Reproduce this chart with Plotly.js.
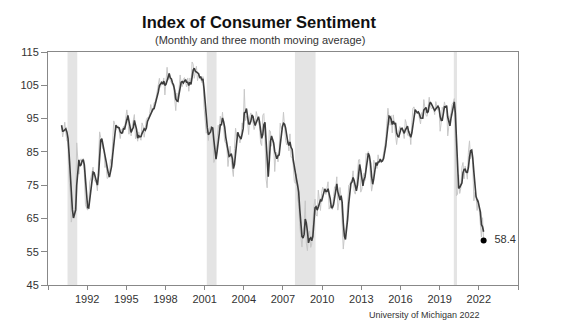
<!DOCTYPE html>
<html><head><meta charset="utf-8">
<script src="https://cdn.plot.ly/plotly-3.0.1.min.js"></script>
<style>body{margin:0;background:#fff}#c{width:573px;height:336px}</style>
</head><body><div id="c"></div>
<script>
const startYear = 1990;
const monthly = [
93.0,89.5,91.3,93.9,90.6,88.3,88.2,76.4,72.8,63.9,66.0,65.5,
66.8,70.4,87.7,81.8,78.3,82.1,82.9,82.0,83.0,78.3,69.1,68.2,
67.5,68.8,76.0,77.2,79.2,80.4,76.6,76.1,75.6,73.3,85.3,91.0,
89.3,86.6,85.9,85.6,80.3,81.5,77.0,77.3,77.9,82.7,81.2,88.2,
94.3,93.2,91.5,92.6,92.8,91.2,89.0,91.7,91.5,92.7,91.6,95.1,
97.6,95.1,90.3,92.5,89.8,92.7,94.4,96.2,88.9,90.2,88.2,91.0,
89.3,88.5,93.7,92.7,89.4,92.4,94.7,95.3,94.7,96.5,99.2,96.9,
97.4,99.7,100.0,101.4,103.2,104.5,107.1,104.4,106.0,105.6,107.2,102.1,
106.6,110.4,106.5,108.7,106.5,105.6,105.2,104.4,100.9,97.4,102.7,100.5,
103.9,108.1,105.7,104.6,106.8,107.3,106.0,104.5,107.2,103.2,107.2,105.4,
112.0,111.3,107.1,109.2,110.7,106.4,108.3,107.3,106.8,105.8,107.6,98.4,
94.7,90.6,91.5,88.4,92.0,92.6,92.4,91.5,81.8,82.7,83.9,88.8,
93.0,90.7,95.7,93.0,96.9,92.4,88.1,87.6,86.1,80.6,84.2,86.7,
82.4,79.9,77.6,86.0,92.1,89.7,90.9,89.3,87.7,89.6,93.7,92.6,
103.8,94.4,95.8,94.2,90.2,95.6,96.7,95.9,94.2,91.7,92.8,97.1,
95.5,94.1,92.6,87.7,86.9,96.0,96.5,89.1,76.9,74.2,81.6,91.5,
91.2,86.7,88.9,87.4,79.1,84.9,84.7,82.0,85.4,93.6,92.1,91.7,
96.9,91.3,88.4,87.1,88.3,85.3,90.4,83.4,83.4,80.9,76.1,75.5,
78.4,70.8,69.5,62.6,59.8,56.4,61.2,63.0,70.3,57.6,55.3,60.1,
61.2,56.3,57.3,65.1,68.7,70.8,66.0,65.7,73.5,70.6,67.4,72.5,
74.4,73.6,73.6,72.2,73.6,76.0,67.8,68.9,68.2,67.7,71.6,74.5,
74.2,77.5,67.5,69.8,74.3,71.5,63.7,55.8,59.5,60.8,63.7,69.9,
75.0,75.3,76.2,76.4,79.3,73.2,72.3,74.3,78.3,82.6,82.7,72.9,
73.8,77.6,78.6,76.4,84.5,84.1,85.1,82.1,77.5,73.2,75.1,82.5,
81.2,81.6,80.0,84.1,81.9,82.5,81.8,82.5,84.6,86.9,88.8,93.6,
98.1,95.4,93.0,95.9,90.7,96.1,93.1,91.9,87.2,90.0,91.3,92.6,
92.0,91.7,91.0,89.0,94.7,93.5,90.0,89.8,91.2,87.2,93.8,98.2,
98.5,96.3,96.9,97.0,97.1,95.0,93.4,96.8,95.1,100.7,98.5,95.9,
95.7,99.7,101.4,98.8,98.0,98.2,97.9,96.2,100.1,98.6,97.5,98.3,
91.2,93.8,98.4,97.2,100.0,98.2,98.4,89.8,93.2,95.5,96.8,99.3,
99.8,101.0,89.1,71.8,72.3,78.1,72.5,74.1,80.4,81.8,76.9,80.7,
79.0,76.8,84.9,88.3,82.9,85.5,81.2,70.3,72.8,71.7,67.4,70.6,
67.2,62.8,59.4,65.2,58.4
];
const recessions = [["1990-07-01","1991-03-31"],["2001-03-01","2001-11-30"],["2007-12-01","2009-06-30"],["2020-02-01","2020-04-30"]];
const tickYears = [1989,1992,1995,1998,2001,2004,2007,2010,2013,2016,2019,2022,2025];
const tickLabels = ["","1992","1995","1998","2001","2004","2007","2010","2013","2016","2019","2022",""];
const lastLabel = "58.4";

const dates = monthly.map((v,i)=>{
  const y = startYear + Math.floor(i/12), m = i%12+1;
  return y+"-"+String(m).padStart(2,"0")+"-15";
});
const ma = monthly.map((v,i)=>{
  const s = monthly.slice(Math.max(0,i-2), i+1);
  return s.reduce((a,b)=>a+b,0)/s.length;
});
const n = monthly.length-1;

const traces = [
 {x:dates,y:monthly,type:"scatter",mode:"lines",line:{color:"#c8c8c8",width:1},hoverinfo:"skip"},
 {x:dates,y:ma,type:"scatter",mode:"lines",line:{color:"#3c3c3c",width:1.6},hoverinfo:"skip"},
 {x:[dates[n]],y:[monthly[n]],type:"scatter",mode:"markers+text",marker:{color:"#000",size:6},
  text:["  "+lastLabel],textposition:"middle right",textfont:{family:"Liberation Sans, Arial",size:11,color:"#333"},cliponaxis:false}
];
const shapes = recessions.map(r=>({type:"rect",xref:"x",yref:"paper",x0:r[0],x1:r[1],y0:0,y1:1,fillcolor:"#e4e4e4",line:{width:0},layer:"below"}));

const layout = {
  width:573,height:336,showlegend:false,
  paper_bgcolor:"#fff",plot_bgcolor:"#fff",
  margin:{l:48,r:55,t:52,b:51},
  font:{family:"Liberation Sans, Arial",size:11,color:"#333"},
  title:{text:"<b>Index of Consumer Sentiment</b>",x:0.452,xanchor:"center",y:0.935,yanchor:"middle",font:{size:16.5,color:"#111"}},
  xaxis:{type:"date",range:["1989-01-01","2025-01-01"],tickvals:tickYears.map(y=>y+"-01-01"),ticktext:tickLabels,
    ticks:"outside",ticklen:4,tickcolor:"#888",showline:true,linecolor:"#888",linewidth:1,mirror:true,showgrid:false,zeroline:false,
    tickfont:{size:11,color:"#333"}},
  yaxis:{range:[45,115],tickvals:[45,55,65,75,85,95,105,115],ticks:"outside",ticklen:6,tickcolor:"#888",
    showline:true,linecolor:"#888",linewidth:1,mirror:true,showgrid:false,zeroline:false,tickfont:{size:11,color:"#333"}},
  shapes:shapes,
  annotations:[
    {text:"(Monthly and three month moving average)",xref:"paper",yref:"paper",x:0.452,y:1.051,xanchor:"center",yanchor:"middle",showarrow:false,font:{size:11,color:"#333"}},
    {text:"University of Michigan 2022",xref:"paper",yref:"paper",x:0.923,y:-0.128,xanchor:"right",yanchor:"middle",showarrow:false,font:{size:9,color:"#333"}}
  ]
};
Plotly.newPlot("c",traces,layout,{staticPlot:true,displayModeBar:false});
</script></body></html>
